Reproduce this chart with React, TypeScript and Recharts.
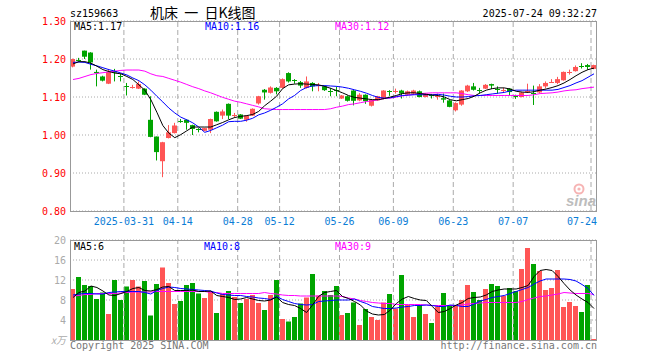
import { ComposedChart, Bar, Line, XAxis, YAxis, CartesianGrid, ReferenceLine } from "recharts";

const dates = [
  "2025-03-18", "2025-03-19", "2025-03-20", "2025-03-21", "2025-03-24", "2025-03-25", "2025-03-26", "2025-03-27", "2025-03-28", "2025-03-31",
  "2025-04-01", "2025-04-02", "2025-04-03", "2025-04-07", "2025-04-08", "2025-04-09", "2025-04-10", "2025-04-11", "2025-04-14", "2025-04-15",
  "2025-04-16", "2025-04-17", "2025-04-18", "2025-04-21", "2025-04-22", "2025-04-23", "2025-04-24", "2025-04-25", "2025-04-28", "2025-04-29",
  "2025-04-30", "2025-05-06", "2025-05-07", "2025-05-08", "2025-05-09", "2025-05-12", "2025-05-13", "2025-05-14", "2025-05-15", "2025-05-16",
  "2025-05-19", "2025-05-20", "2025-05-21", "2025-05-22", "2025-05-23", "2025-05-26", "2025-05-27", "2025-05-28", "2025-05-29", "2025-05-30",
  "2025-06-03", "2025-06-04", "2025-06-05", "2025-06-06", "2025-06-09", "2025-06-10", "2025-06-11", "2025-06-12", "2025-06-13", "2025-06-16",
  "2025-06-17", "2025-06-18", "2025-06-19", "2025-06-20", "2025-06-23", "2025-06-24", "2025-06-25", "2025-06-26", "2025-06-27", "2025-06-30",
  "2025-07-01", "2025-07-02", "2025-07-03", "2025-07-04", "2025-07-07", "2025-07-08", "2025-07-09", "2025-07-10", "2025-07-11", "2025-07-14",
  "2025-07-15", "2025-07-16", "2025-07-17", "2025-07-18", "2025-07-21", "2025-07-22", "2025-07-23", "2025-07-24",
];

const openPx = [
  1.180, 1.198, 1.222, 1.217, 1.166, 1.154, 1.135, 1.168, 1.155, 1.129,
  1.127, 1.122, 1.122, 1.040, 0.996, 0.931, 0.992, 1.005, 1.038, 1.040,
  1.026, 1.015, 1.011, 1.014, 1.061, 1.051, 1.082, 1.051, 1.054, 1.040,
  1.051, 1.083, 1.119, 1.111, 1.124, 1.124, 1.163, 1.144, 1.139, 1.124,
  1.137, 1.131, 1.128, 1.116, 1.118, 1.096, 1.102, 1.117, 1.091, 1.106,
  1.077, 1.091, 1.095, 1.116, 1.116, 1.117, 1.106, 1.109, 1.115, 1.100,
  1.107, 1.101, 1.097, 1.091, 1.065, 1.080, 1.115, 1.128, 1.118, 1.122,
  1.134, 1.122, 1.117, 1.122, 1.103, 1.100, 1.116, 1.112, 1.112, 1.128,
  1.140, 1.137, 1.144, 1.165, 1.168, 1.183, 1.184, 1.174,
];
const highPx = [
  1.201, 1.203, 1.222, 1.218, 1.172, 1.156, 1.174, 1.174, 1.161, 1.137,
  1.132, 1.141, 1.123, 1.102, 0.996, 0.982, 1.026, 1.032, 1.042, 1.041,
  1.027, 1.018, 1.019, 1.043, 1.062, 1.067, 1.083, 1.058, 1.055, 1.052,
  1.070, 1.103, 1.121, 1.128, 1.126, 1.149, 1.165, 1.147, 1.142, 1.154,
  1.139, 1.137, 1.130, 1.124, 1.128, 1.105, 1.104, 1.118, 1.110, 1.107,
  1.095, 1.103, 1.118, 1.118, 1.122, 1.119, 1.117, 1.119, 1.117, 1.110,
  1.108, 1.109, 1.109, 1.092, 1.086, 1.118, 1.132, 1.137, 1.124, 1.134,
  1.135, 1.128, 1.124, 1.123, 1.106, 1.113, 1.135, 1.130, 1.134, 1.141,
  1.147, 1.153, 1.167, 1.172, 1.183, 1.189, 1.187, 1.185,
];
const lowPx = [
  1.178, 1.193, 1.200, 1.172, 1.128, 1.141, 1.134, 1.141, 1.141, 1.104,
  1.122, 1.121, 1.105, 0.994, 0.933, 0.889, 0.991, 1.004, 1.032, 1.014,
  1.000, 1.007, 1.010, 1.005, 1.035, 1.042, 1.042, 1.045, 1.042, 1.035,
  1.050, 1.080, 1.093, 1.109, 1.107, 1.122, 1.138, 1.135, 1.124, 1.122,
  1.115, 1.115, 1.116, 1.102, 1.102, 1.095, 1.088, 1.078, 1.089, 1.082,
  1.075, 1.090, 1.094, 1.103, 1.109, 1.096, 1.105, 1.108, 1.099, 1.099,
  1.096, 1.093, 1.085, 1.073, 1.062, 1.077, 1.113, 1.117, 1.110, 1.121,
  1.121, 1.109, 1.111, 1.104, 1.095, 1.099, 1.111, 1.079, 1.110, 1.123,
  1.139, 1.134, 1.143, 1.159, 1.167, 1.175, 1.172, 1.173,
];
const closePx = [
  1.200, 1.197, 1.206, 1.191, 1.163, 1.143, 1.166, 1.164, 1.153, 1.128,
  1.128, 1.134, 1.106, 0.995, 0.955, 0.981, 1.007, 1.025, 1.037, 1.032,
  1.016, 1.014, 1.018, 1.042, 1.036, 1.062, 1.051, 1.052, 1.043, 1.051,
  1.069, 1.102, 1.112, 1.125, 1.115, 1.147, 1.141, 1.143, 1.130, 1.141,
  1.128, 1.132, 1.118, 1.115, 1.117, 1.104, 1.090, 1.090, 1.106, 1.089,
  1.093, 1.102, 1.117, 1.115, 1.117, 1.109, 1.115, 1.117, 1.100, 1.109,
  1.106, 1.102, 1.093, 1.074, 1.084, 1.117, 1.130, 1.119, 1.117, 1.132,
  1.130, 1.121, 1.118, 1.113, 1.102, 1.112, 1.117, 1.111, 1.128, 1.137,
  1.141, 1.147, 1.166, 1.166, 1.179, 1.182, 1.179, 1.184,
];

const ma5 = [
  1.187, 1.193, 1.193, 1.189, 1.181, 1.172, 1.167, 1.163, 1.161, 1.154,
  1.146, 1.132, 1.118, 1.093, 1.060, 1.025, 1.005, 0.993, 1.001, 1.011,
  1.021, 1.021, 1.021, 1.021, 1.027, 1.033, 1.040, 1.046, 1.049, 1.051,
  1.054, 1.062, 1.077, 1.089, 1.102, 1.122, 1.132, 1.134, 1.135, 1.134,
  1.133, 1.132, 1.128, 1.123, 1.117, 1.111, 1.104, 1.099, 1.097, 1.095,
  1.093, 1.093, 1.096, 1.100, 1.104, 1.109, 1.111, 1.111, 1.109, 1.107,
  1.105, 1.104, 1.100, 1.093, 1.090, 1.093, 1.096, 1.102, 1.111, 1.118,
  1.122, 1.124, 1.124, 1.121, 1.115, 1.113, 1.112, 1.114, 1.118, 1.121,
  1.125, 1.130, 1.137, 1.146, 1.156, 1.165, 1.172, 1.176,
];
const ma10 = [
  1.191, 1.192, 1.191, 1.186, 1.182, 1.177, 1.172, 1.168, 1.163, 1.158,
  1.150, 1.143, 1.132, 1.118, 1.102, 1.087, 1.071, 1.058, 1.047, 1.040,
  1.032, 1.021, 1.007, 1.012, 1.019, 1.026, 1.035, 1.036, 1.036, 1.039,
  1.044, 1.053, 1.058, 1.065, 1.073, 1.082, 1.095, 1.104, 1.117, 1.125,
  1.129, 1.130, 1.130, 1.129, 1.128, 1.126, 1.123, 1.119, 1.115, 1.110,
  1.104, 1.099, 1.097, 1.098, 1.101, 1.104, 1.105, 1.106, 1.106, 1.106,
  1.106, 1.107, 1.105, 1.102, 1.100, 1.100, 1.101, 1.103, 1.104, 1.106,
  1.108, 1.110, 1.112, 1.116, 1.118, 1.118, 1.118, 1.118, 1.118, 1.118,
  1.118, 1.120, 1.125, 1.130, 1.137, 1.143, 1.152, 1.161,
];
const ma30 = [
  1.146, 1.149, 1.154, 1.159, 1.162, 1.164, 1.166, 1.168, 1.170, 1.171,
  1.171, 1.171, 1.168, 1.161, 1.156, 1.154, 1.149, 1.144, 1.139, 1.133,
  1.127, 1.122, 1.116, 1.111, 1.105, 1.099, 1.094, 1.089, 1.086, 1.082,
  1.078, 1.074, 1.069, 1.068, 1.067, 1.067, 1.067, 1.067, 1.067, 1.067,
  1.067, 1.067, 1.067, 1.069, 1.073, 1.076, 1.080, 1.082, 1.085, 1.088,
  1.090, 1.093, 1.096, 1.097, 1.100, 1.103, 1.105, 1.107, 1.109, 1.110,
  1.111, 1.111, 1.111, 1.111, 1.111, 1.109, 1.106, 1.104, 1.104, 1.104,
  1.104, 1.104, 1.104, 1.104, 1.104, 1.104, 1.104, 1.106, 1.109, 1.110,
  1.111, 1.113, 1.116, 1.118, 1.119, 1.122, 1.124, 1.126,
];

// 成交量 (万手)
const volume = [
  10.2, 12.6, 11.0, 10.8, 8.2, 9.5, 5.2, 12.0, 8.0, 10.7,
  12.0, 10.7, 11.8, 4.9, 11.2, 14.5, 11.4, 7.2, 7.8, 11.0,
  11.4, 9.3, 8.4, 9.8, 5.4, 9.2, 9.8, 8.6, 7.4, 8.2,
  9.0, 7.4, 6.0, 9.0, 12.0, 4.2, 3.7, 4.6, 7.3, 8.5,
  13.2, 8.9, 9.8, 9.0, 10.8, 5.0, 5.4, 7.5, 3.0, 6.2,
  4.6, 4.0, 7.5, 9.2, 6.3, 13.0, 7.0, 4.6, 7.0, 5.2,
  3.4, 6.7, 9.4, 7.0, 6.8, 8.0, 11.0, 9.6, 8.0, 10.2,
  11.2, 10.8, 8.8, 10.4, 9.8, 14.2, 18.4, 15.2, 13.8, 10.0,
  10.4, 14.0, 6.6, 7.6, 6.8, 5.6, 11.0, 0.2,
];
const volMa5 = [
  8.5, 9.5, 9.8, 10.8, 10.5, 9.8, 9.0, 8.9, 9.3, 9.7,
  10.3, 10.5, 9.9, 9.8, 10.1, 10.6, 10.7, 9.9, 9.9, 9.9,
  10.0, 9.7, 9.7, 9.8, 8.9, 8.7, 8.5, 8.1, 8.2, 8.5,
  8.2, 7.9, 7.8, 8.0, 8.6, 7.5, 7.1, 6.9, 6.3, 5.5,
  7.0, 8.7, 9.5, 9.7, 9.9, 8.7, 8.3, 7.7, 7.0, 5.8,
  5.2, 5.0, 5.1, 6.0, 7.3, 8.2, 8.7, 8.3, 8.0, 7.9,
  6.7, 5.5, 5.7, 6.3, 7.0, 7.5, 8.3, 8.5, 8.6, 9.0,
  9.7, 10.0, 10.2, 10.2, 10.2, 10.5, 10.9, 12.7, 13.9, 14.1,
  13.9, 12.7, 11.3, 10.0, 9.0, 8.2, 7.5, 6.3,
];
const volMa10 = [
  9.0, 9.2, 9.3, 9.3, 9.2, 9.2, 9.5, 9.6, 9.7, 9.7,
  9.7, 9.7, 9.5, 9.2, 9.9, 10.3, 10.6, 10.5, 10.3, 10.2,
  10.1, 10.0, 9.9, 9.8, 9.4, 9.1, 9.0, 8.9, 8.9, 8.7,
  8.6, 8.4, 8.3, 8.1, 8.7, 8.1, 7.7, 7.3, 7.1, 7.0,
  7.1, 7.7, 7.8, 7.9, 8.0, 8.0, 8.0, 8.2, 7.7, 7.3,
  6.7, 6.5, 6.3, 6.3, 6.4, 6.6, 6.7, 6.9, 6.9, 7.0,
  6.9, 6.7, 6.7, 7.0, 6.9, 6.7, 6.7, 7.2, 7.8, 8.1,
  8.5, 8.7, 8.9, 9.3, 9.7, 10.1, 10.5, 11.2, 11.8, 12.2,
  12.2, 12.2, 12.2, 12.1, 11.8, 11.1, 10.3, 8.9,
];
const volMa30 = [
  8.8, 8.9, 9.1, 9.1, 9.3, 9.3, 9.3, 9.3, 9.4, 9.5,
  9.6, 9.6, 9.6, 9.6, 9.7, 9.7, 9.7, 9.7, 9.7, 9.7,
  9.7, 9.7, 9.7, 9.5, 9.5, 9.3, 9.3, 9.3, 9.3, 9.3,
  9.3, 9.3, 9.5, 9.3, 9.2, 9.0, 8.9, 8.9, 8.8, 8.8,
  8.8, 8.8, 8.8, 8.8, 8.8, 8.7, 8.4, 8.2, 7.9, 7.7,
  7.5, 7.4, 7.3, 7.3, 7.1, 7.1, 7.1, 7.1, 7.1, 7.0,
  6.9, 6.9, 6.9, 6.9, 6.9, 7.0, 7.2, 7.3, 7.4, 7.5,
  7.5, 7.5, 7.5, 7.5, 7.5, 7.7, 8.1, 8.4, 8.7, 8.8,
  9.0, 9.2, 9.5, 9.4, 9.3, 9.3, 9.3, 9.1,
];

const tickDates = [
  "2025-03-31", "2025-04-14", "2025-04-28", "2025-05-12", "2025-05-26",
  "2025-06-09", "2025-06-23", "2025-07-07", "2025-07-24",
];
const priceTicks = [0.8, 0.9, 1.0, 1.1, 1.2, 1.3];
const volTicks = [0, 4, 8, 12, 16, 20];

const RED = "#ff5555";
const GREEN = "#00a400";
const GRID = "#aaaaaa";
const FRAME = "#999999";
const MONO = "'DejaVu Sans Mono', 'Liberation Mono', monospace";

const PLOT_LEFT = 70;
const PLOT_RIGHT = 597;
const PRICE_TOP = 21;
const PRICE_BOTTOM = 211;
const VOL_TOP = 240;
const VOL_BOTTOM = 340;
const BAND = (PLOT_RIGHT - PLOT_LEFT) / dates.length;

const rows = dates.map((date, i) => ({
  date,
  open: openPx[i],
  high: highPx[i],
  low: lowPx[i],
  close: closePx[i],
  ma5: ma5[i],
  ma10: ma10[i],
  ma30: ma30[i],
  vol: volume[i],
  vma5: volMa5[i],
  vma10: volMa10[i],
  vma30: volMa30[i],
}));

const isUp = (r: any) => r.close >= r.open;

function Candle(props: any) {
  const { x, y, width, height, payload } = props;
  const { open, close, high, low } = payload;
  const color = isUp(payload) ? RED : GREEN;
  const k = high > low ? height / (high - low) : 0;
  const py = (v: number) => y + (high - v) * k;
  const left = Math.round(x + width / 2 - 2.5);
  const mid = left + 2.5;
  const top = py(Math.max(open, close));
  const bot = py(Math.min(open, close));
  const dojiY = Math.round((top + bot) / 2) + 0.5;
  return (
    <g>
      <line x1={mid} x2={mid} y1={py(high)} y2={py(low)} stroke={color} strokeWidth={1} />
      {bot - top < 1 ? (
        <line x1={left} x2={left + 5} y1={dojiY} y2={dojiY} stroke={color} strokeWidth={1} />
      ) : (
        <rect x={left} y={top} width={5} height={bot - top} fill={color} />
      )}
    </g>
  );
}

function VolBar(props: any) {
  const { x, y, width, height, payload } = props;
  const left = Math.round(x + width / 2 - 2.5);
  return <rect x={left} y={y} width={5} height={Math.max(height, 0)} fill={isUp(payload) ? RED : GREEN} />;
}

function DateTick({ payload }: any) {
  const v: string = payload.value;
  const i = dates.indexOf(v);
  const last = v === tickDates[tickDates.length - 1];
  const label = v === tickDates[0] ? v : v.slice(5);
  const gx = PLOT_LEFT + i * BAND;
  return (
    <text
      x={last ? PLOT_RIGHT : gx}
      y={PRICE_BOTTOM + 14}
      textAnchor={last ? "end" : "middle"}
      fill="#0b7dd6"
      fontSize={10}
      fontFamily={MONO}
    >
      {label}
    </text>
  );
}

function PriceTick({ y, payload }: any) {
  return (
    <text x={PLOT_LEFT - 4} y={y + 4} textAnchor="end" fill="#ff0000" fontSize={10} fontFamily={MONO}>
      {payload.value.toFixed(2)}
    </text>
  );
}

function VolTick({ y, payload }: any) {
  const zero = payload.value === 0;
  return (
    <text
      x={PLOT_LEFT - 4}
      y={y + 4}
      textAnchor="end"
      fill="#aaaaaa"
      fontSize={10}
      fontStyle={zero ? "italic" : "normal"}
      fontFamily={zero ? "'Noto Sans CJK SC', sans-serif" : MONO}
    >
      {zero ? "x万" : payload.value}
    </text>
  );
}

const layer: any = { position: "absolute", left: 0, top: 0 };

export default function App() {
  return (
    <div style={{ position: "absolute", left: 0, top: 0, width: 660, height: 360, background: "#fff" }}>
      <svg width={660} height={360} style={layer}>
        <circle cx={579} cy={189} r={4.5} fill="none" stroke="#f6b4b4" strokeWidth={2} />
        <circle cx={579} cy={189} r={1.6} fill="#f6b4b4" />
        <text x={581} y={206} textAnchor="middle" fontSize={15} fontWeight="bold" fontStyle="italic" fill="#bdbdbd" fontFamily="'Liberation Sans', sans-serif">
          sina
        </text>
      </svg>

      <ComposedChart width={660} height={360} data={rows} margin={{ top: PRICE_TOP, right: 660 - PLOT_RIGHT, bottom: 129, left: 8 }} style={layer}>
        <CartesianGrid vertical={false} stroke={GRID} strokeDasharray="1 2" />
        <XAxis dataKey="date" ticks={tickDates} interval={0} height={20} axisLine={false} tickLine={false} tick={<DateTick />} />
        <YAxis domain={[0.8, 1.3]} ticks={priceTicks} interval={0} width={62} axisLine={false} tickLine={false} tick={<PriceTick />} />
        {tickDates.map((d) => (
          <ReferenceLine key={d} x={d} position="start" stroke={GRID} strokeDasharray="5 3" />
        ))}
        <Bar dataKey={(r: any) => [r.low, r.high]} barSize={5} shape={<Candle />} isAnimationActive={false} />
        <Line type="linear" dataKey="ma30" stroke="#ff00ff" strokeWidth={1} dot={false} activeDot={false} isAnimationActive={false} />
        <Line type="linear" dataKey="ma10" stroke="#0000ff" strokeWidth={1} dot={false} activeDot={false} isAnimationActive={false} />
        <Line type="linear" dataKey="ma5" stroke="#000000" strokeWidth={1} dot={false} activeDot={false} isAnimationActive={false} />
      </ComposedChart>

      <ComposedChart width={660} height={360} data={rows} margin={{ top: VOL_TOP, right: 660 - PLOT_RIGHT, bottom: 360 - VOL_BOTTOM, left: 8 }} style={layer}>
        <CartesianGrid vertical={false} stroke={GRID} strokeDasharray="1 2" />
        <XAxis dataKey="date" hide />
        <YAxis domain={[0, 20]} ticks={volTicks} interval={0} width={62} axisLine={false} tickLine={false} tick={<VolTick />} />
        {tickDates.map((d) => (
          <ReferenceLine key={d} x={d} position="start" stroke={GRID} strokeDasharray="5 3" />
        ))}
        <Bar dataKey="vol" barSize={5} shape={<VolBar />} isAnimationActive={false} />
        <Line type="linear" dataKey="vma30" stroke="#ff00ff" strokeWidth={1} dot={false} activeDot={false} isAnimationActive={false} />
        <Line type="linear" dataKey="vma10" stroke="#0000ff" strokeWidth={1} dot={false} activeDot={false} isAnimationActive={false} />
        <Line type="linear" dataKey="vma5" stroke="#000000" strokeWidth={1} dot={false} activeDot={false} isAnimationActive={false} />
      </ComposedChart>

      <svg width={660} height={360} style={{ ...layer, pointerEvents: "none" }}>
        <rect x={PLOT_LEFT + 0.5} y={PRICE_TOP + 0.5} width={PLOT_RIGHT - PLOT_LEFT - 1} height={PRICE_BOTTOM - PRICE_TOP} fill="none" stroke={FRAME} />
        <rect x={PLOT_LEFT + 0.5} y={VOL_TOP + 0.5} width={PLOT_RIGHT - PLOT_LEFT - 1} height={VOL_BOTTOM - VOL_TOP} fill="none" stroke={FRAME} />

        <text x={70} y={17} fontSize={10} fontFamily={MONO} fill="#000">sz159663</text>
        <text x={150} y={17.5} fontSize={14} fontFamily="'Noto Sans CJK SC', sans-serif" fill="#000" style={{ whiteSpace: "pre" }}>机床  一  日K线图</text>
        <text x={PLOT_RIGHT} y={17} textAnchor="end" fontSize={10} fontFamily={MONO} fill="#000">2025-07-24 09:32:27</text>

        <text x={74} y={30} fontSize={10} fontFamily={MONO} fill="#000000">MA5:1.17</text>
        <text x={205} y={30} fontSize={10} fontFamily={MONO} fill="#0000ff">MA10:1.16</text>
        <text x={335} y={30} fontSize={10} fontFamily={MONO} fill="#ff00ff">MA30:1.12</text>

        <text x={74} y={250} fontSize={10} fontFamily={MONO} fill="#000000">MA5:6</text>
        <text x={204} y={250} fontSize={10} fontFamily={MONO} fill="#0000ff">MA10:8</text>
        <text x={335} y={250} fontSize={10} fontFamily={MONO} fill="#ff00ff">MA30:9</text>

        <text x={70} y={349} fontSize={10} fontFamily={MONO} fill="#777">Copyright 2025 SINA.COM</text>
        <text x={PLOT_RIGHT} y={349} textAnchor="end" fontSize={10} fontFamily={MONO} fill="#777">http://finance.sina.com.cn</text>
      </svg>
    </div>
  );
}
